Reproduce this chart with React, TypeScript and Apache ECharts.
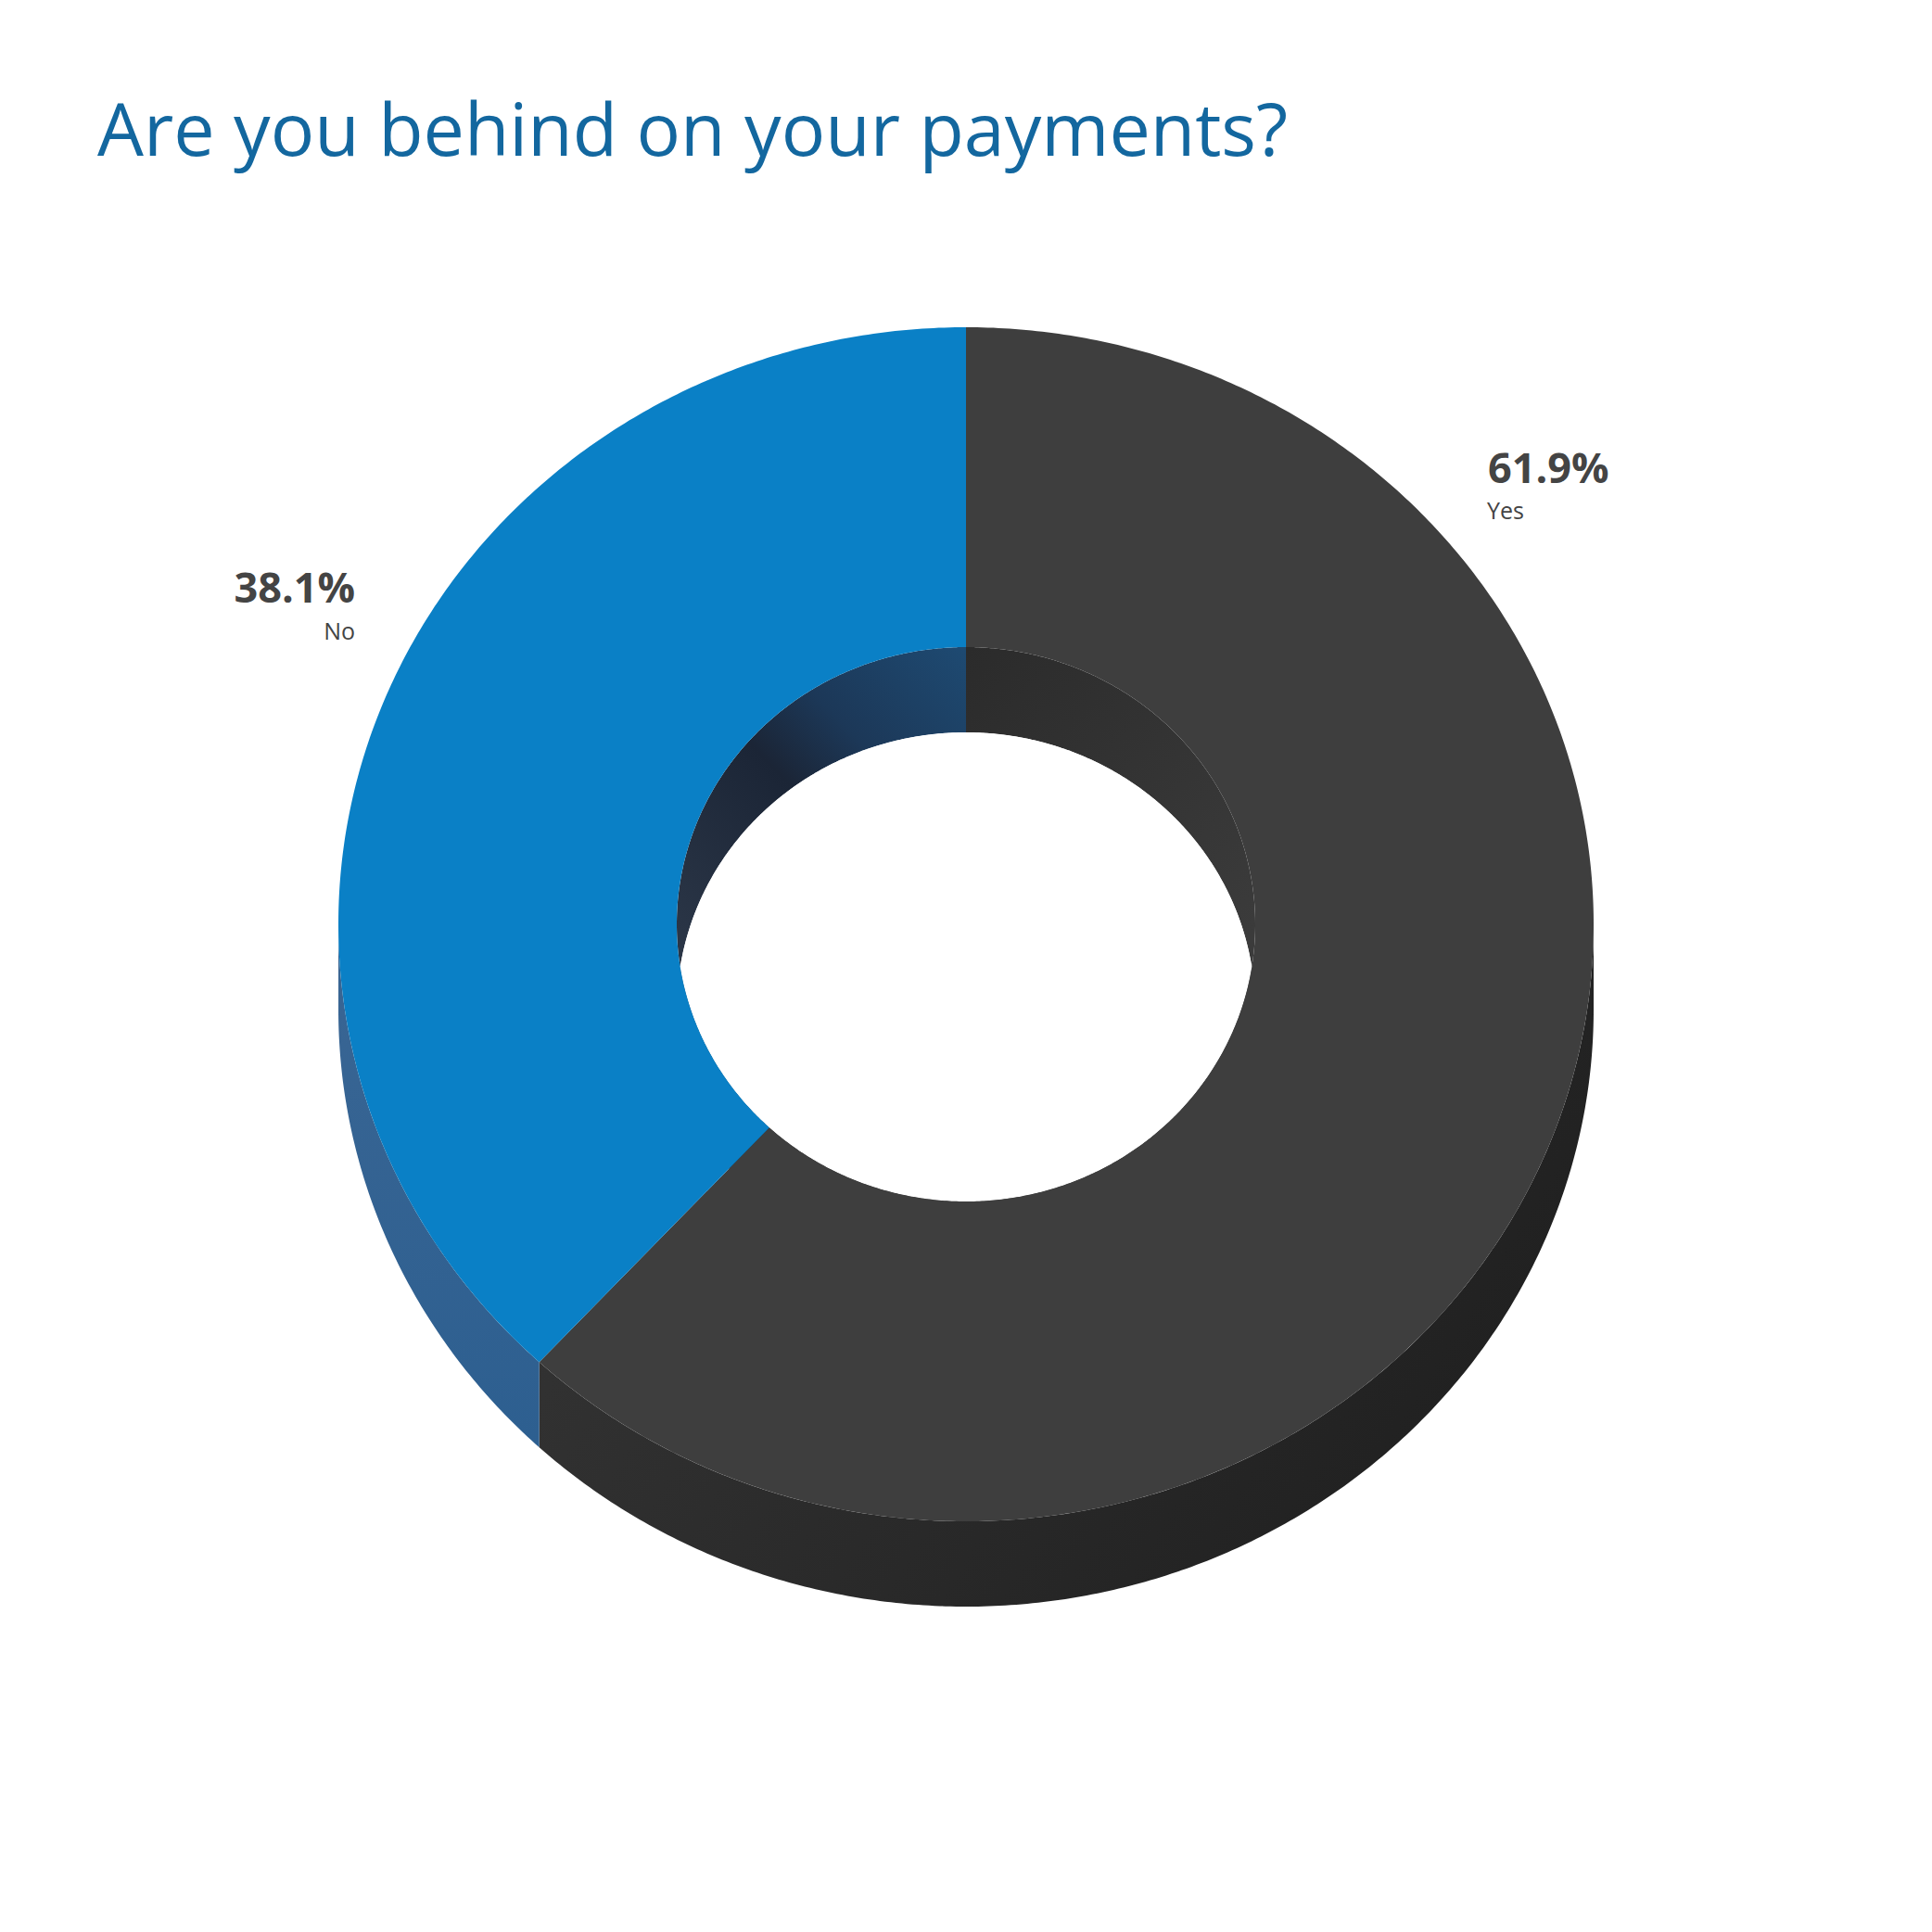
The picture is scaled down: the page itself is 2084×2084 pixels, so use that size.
import React, { useEffect, useRef } from "react";
import * as echarts from "echarts";

// chart data
const categories = ["Yes", "No"];
const shares = [61.9, 38.1];
const title = "Are you behind on your payments?";

// slice colours (top face, outer side, inner wall)
const topColors = ["#3e3e3e", "#0a80c6"];

// geometry of the donut (px)
const CX = 1042;
const CY = 997;
const RX = 677;
const RY = 644;
const IRX = 312;
const IRY = 299;
const DEPTH = 92;

const pt = (deg: number, rx: number, ry: number, dy: number) => {
  const r = (deg * Math.PI) / 180;
  return [CX + rx * Math.cos(r), CY - ry * Math.sin(r) + dy];
};

const arc = (from: number, to: number, rx: number, ry: number, dy: number) => {
  const n = Math.max(2, Math.ceil(Math.abs(to - from) / 0.5));
  const out: number[][] = [];
  for (let i = 0; i <= n; i++) out.push(pt(from + ((to - from) * i) / n, rx, ry, dy));
  return out;
};

const lin = (x0: number, y0: number, x1: number, y1: number, stops: [number, string][]) =>
  new echarts.graphic.LinearGradient(
    x0, y0, x1, y1,
    stops.map(([offset, color]) => ({ offset, color })),
    true
  );

const sideFill = [
  lin(581, 1000, 1719, 1700, [[0, "#363636"], [1, "#1d1d1d"]]),
  lin(0, 1000, 0, 1560, [[0, "#3a6694"], [1, "#2d5f90"]]),
];
const wallFill = [
  lin(1042, 700, 1354, 1000, [[0, "#2b2b2b"], [1, "#3b3b3b"]]),
  lin(730, 1000, 1042, 700, [[0, "#2a3546"], [0.45, "#1b2536"], [0.65, "#1c3858"], [1, "#1e4a72"]]),
];

const App: React.FC = () => {
  const chartRef = useRef<HTMLDivElement>(null);

  useEffect(() => {
    document.body.style.margin = "0";
    if (!chartRef.current) return;
    const chart = echarts.init(chartRef.current, null, { renderer: "svg" });

    const total = shares.reduce((a, b) => a + b, 0);
    const starts: number[] = [];
    shares.reduce((acc, v) => {
      starts.push(acc);
      return acc + v;
    }, 0);

    const renderItem = (params: any, api: any) => {
      const i = params.dataIndex;
      const v = api.value(0);
      const s = api.value(1);
      // clockwise from 12 o'clock
      const hi = 90 - (360 * s) / total;
      const lo = 90 - (360 * (s + v)) / total;
      const children: any[] = [];

      // outer side, only the front half shows
      const a = Math.max(lo, -180);
      const b = Math.min(hi, 0);
      if (a < b) {
        children.push({
          type: "polygon",
          z2: 0,
          shape: { points: [...arc(a, b, RX, RY, 0), ...arc(b, a, RX, RY, DEPTH)] },
          style: { fill: sideFill[i] },
        });
      }
      // inner wall
      children.push({
        type: "polygon",
        z2: 0,
        shape: { points: [...arc(lo, hi, IRX, IRY, 0), ...arc(hi, lo, IRX, IRY, DEPTH)] },
        style: { fill: wallFill[i] },
      });
      // top face
      children.push({
        type: "polygon",
        z2: 2,
        shape: { points: [...arc(lo, hi, RX, RY, 0), ...arc(hi, lo, IRX, IRY, 0)] },
        style: { fill: topColors[i] },
      });
      // the hole seen through the ring
      if (i === 0) {
        const beta = (Math.asin(DEPTH / 2 / IRY) * 180) / Math.PI;
        children.push({
          type: "polygon",
          z2: 1,
          shape: {
            points: [
              ...arc(beta, 180 - beta, IRX, IRY, DEPTH),
              ...arc(180 + beta, 360 - beta, IRX, IRY, 0),
            ],
          },
          style: { fill: "#ffffff" },
        });
      }
      return { type: "group", children };
    };

    const labelFont = "Open Sans";
    chart.setOption({
      animation: false,
      backgroundColor: "#ffffff",
      graphic: [
        {
          type: "text",
          style: {
            text: title,
            x: 105,
            y: 137,
            fill: "#13679f",
            font: `400 79px "Open Sans"`,
            textAlign: "left",
            textVerticalAlign: "middle",
          },
        },
        {
          type: "text",
          style: {
            text: `${shares[0].toFixed(1)}%`,
            x: 1605,
            y: 503,
            fill: "#444444",
            font: `700 45px "${labelFont}"`,
            textAlign: "left",
            textVerticalAlign: "middle",
          },
        },
        {
          type: "text",
          style: {
            text: categories[0],
            x: 1604,
            y: 550,
            fill: "#444444",
            font: `400 25px "${labelFont}"`,
            textAlign: "left",
            textVerticalAlign: "middle",
          },
        },
        {
          type: "text",
          style: {
            text: `${shares[1].toFixed(1)}%`,
            x: 383,
            y: 632,
            fill: "#444444",
            font: `700 45px "${labelFont}"`,
            textAlign: "right",
            textVerticalAlign: "middle",
          },
        },
        {
          type: "text",
          style: {
            text: categories[1],
            x: 383,
            y: 680,
            fill: "#444444",
            font: `400 25px "${labelFont}"`,
            textAlign: "right",
            textVerticalAlign: "middle",
          },
        },
      ],
      series: [
        {
          type: "custom",
          coordinateSystem: "none",
          silent: true,
          data: categories.map((name, i) => ({ name, value: [shares[i], starts[i]] })),
          renderItem,
        },
      ],
    });

    return () => {
      chart.dispose();
    };
  }, []);

  return <div ref={chartRef} style={{ width: "2084px", height: "2084px" }} />;
};

export default App;
